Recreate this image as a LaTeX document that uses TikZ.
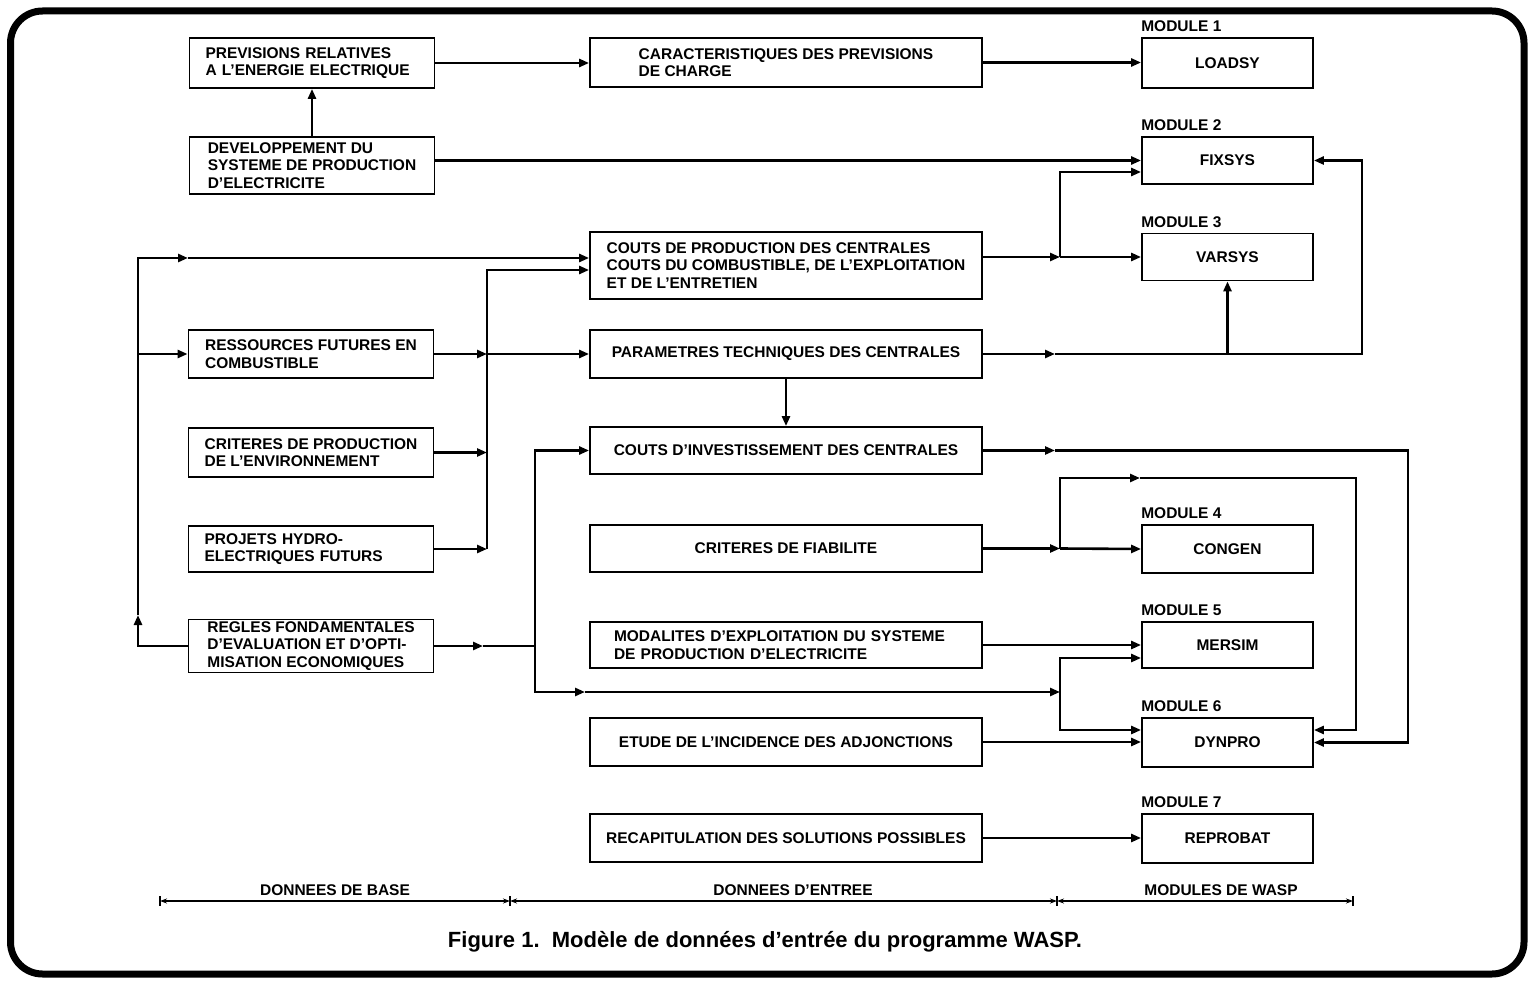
\documentclass[tikz,border=0pt]{standalone}
\usepackage{fontspec}
\setmainfont{Liberation Sans}
\usetikzlibrary{arrows.meta,calc}
\newcommand\boxfont{\fontsize{15.5}{17.5}\selectfont\bfseries}
\newcommand\captfont{\fontsize{22}{25}\selectfont\bfseries}

\begin{document}
\begin{tikzpicture}[x=1pt,y=-1pt,>={Triangle[length=10pt,width=8pt]},
  bbox/.style={draw,line width=1.8pt,font=\boxfont,align=left,minimum width=245pt,inner sep=0pt,minimum height=#1},
  mbox/.style={draw,line width=1.8pt,font=\boxfont,align=left,minimum width=392pt,inner sep=0pt,minimum height=#1},
  modbox/.style={draw,line width=1.8pt,font=\boxfont,minimum width=171pt,inner sep=0pt,minimum height=#1},
  modlbl/.style={font=\boxfont,anchor=south west,inner sep=0pt,yshift=5pt},
  arr/.style={->,line width=2.6pt},
  lnk/.style={line width=2.6pt},
  scalebar/.style={{Stealth[length=7pt,width=5pt]}-{Stealth[length=7pt,width=5pt]},line width=1.3pt}]
\useasboundingbox (0,0) rectangle (1537,984);
\draw[line width=7pt,rounded corners=32pt] (10.5,11) rectangle (1524,974);

% donnees de base
\node[bbox=50pt,text width=213pt] (b1) at (312,63) {PREVISIONS RELATIVES\\A L’ENERGIE ELECTRIQUE};
\node[bbox=57pt] (b2) at (312,165.5) {DEVELOPPEMENT DU\\SYSTEME DE PRODUCTION\\D’ELECTRICITE};
\node[bbox=48pt] (b3) at (311,354) {RESSOURCES FUTURES EN\\COMBUSTIBLE};
\node[bbox=49pt] (b4) at (311,452.5) {CRITERES DE PRODUCTION\\DE L’ENVIRONNEMENT};
\node[bbox=46pt,text width=213pt] (b5) at (311,549) {PROJETS HYDRO-\\ELECTRIQUES FUTURS};
\node[bbox=53pt] (b6) at (311,646) {REGLES FONDAMENTALES\\D’EVALUATION ET D’OPTI-\\MISATION ECONOMIQUES};

% donnees d'entree
\node[mbox=49pt] (m1) at (786,62.5) {CARACTERISTIQUES DES PREVISIONS\\DE CHARGE};
\node[mbox=67pt] (m2) at (786,265.5) {COUTS DE PRODUCTION DES CENTRALES\\COUTS DU COMBUSTIBLE, DE L’EXPLOITATION\\ET DE L’ENTRETIEN};
\node[mbox=48pt] (m3) at (786,354) {PARAMETRES TECHNIQUES DES CENTRALES};
\node[mbox=47pt] (m4) at (786,450.5) {COUTS D’INVESTISSEMENT DES CENTRALES};
\node[mbox=47pt] (m5) at (786,548.5) {CRITERES DE FIABILITE};
\node[mbox=46pt,text width=344pt] (m6) at (786,645) {MODALITES D’EXPLOITATION DU SYSTEME\\DE PRODUCTION D’ELECTRICITE};
\node[mbox=48pt] (m7) at (786,742) {ETUDE DE L’INCIDENCE DES ADJONCTIONS};
\node[mbox=48pt] (m8) at (786,838) {RECAPITULATION DES SOLUTIONS POSSIBLES};

% modules de WASP
\node[modbox=50pt] (l1) at (1227.5,63) {LOADSY};
\node[modbox=47pt] (l2) at (1227.5,160.5) {FIXSYS};
\node[modbox=47pt] (l3) at (1227.5,257) {VARSYS};
\node[modbox=48pt] (l4) at (1227.5,549) {CONGEN};
\node[modbox=46pt] (l5) at (1227.5,645) {MERSIM};
\node[modbox=49pt] (l6) at (1227.5,742.5) {DYNPRO};
\node[modbox=49pt] (l7) at (1227.5,838.5) {REPROBAT};
\foreach \i in {1,...,7} \node[modlbl] at (l\i.north west) {MODULE \i};

% points de passage
\coordinate (c0) at (138,615);
\coordinate (c2) at (188,258);
\coordinate (bus) at (487,270);
\coordinate (j2) at (1060,257);
\coordinate (a3) at (1055,354);
\coordinate (j3) at (1362,354);
\coordinate (a4) at (1055,450.5);
\coordinate (r1) at (1408,450.5);
\coordinate (j5) at (1060,548.5);
\coordinate (a5) at (1140,478);
\coordinate (r2) at (1356,478);
\coordinate (a6) at (483,646);
\coordinate (j6) at (535,646);
\coordinate (a7) at (585,692);
\coordinate (j7) at (1060,692);

\draw[arr] (b1.east) -- (b1.east -| m1.west);
\draw[arr] (m1.east) -- (m1.east -| l1.west);
\draw[arr] (b2.north) -- (b2.north |- b1.south);
\draw[arr] ([yshift=5pt]b2.east) -- (l2.west);

\draw[arr] (b6.west) -| (c0);
\draw[arr] (c0) |- (c2);
\draw[arr] (c2) -- ([yshift=7.5pt]m2.west);
\draw[arr] (c0 |- b3.west) -- (b3.west);

\draw[arr] (b3.east) -- (b3.east -| bus);
\draw[arr] (b3.east -| bus) -- (m3.west);
\draw[arr] (b4.east) -- (b4.east -| bus);
\draw[arr] (b5.east) -- (b5.east -| bus);
\draw[arr] (b5.east -| bus) -- (bus) -- ([yshift=-4.5pt]m2.west);

\draw[arr] ([yshift=8.5pt]m2.east) -- (j2);
\draw[arr] (j2) -- (l3.west);
\draw[arr] (j2) |- ([yshift=-11.5pt]l2.west);

\draw[arr] (m3.east) -- (a3);
\draw[arr] (a3) -- (j3) |- (l2.east);
\draw[arr] (a3 -| l3.south) -- (l3.south);
\draw[arr] (m3.south) -- (m3.south |- m4.north);

\draw[arr] (m4.east) -- (a4);
\draw[arr] (a4) -- (r1) |- (l6.east);

\draw[arr] (m5.east) -- (j5);
\draw[arr] (j5) -- (l4.west);
\draw[arr] (j5) |- (a5);
\draw[arr] (a5) -- (r2) |- ([yshift=12.5pt]l6.east);

\draw[arr] (m6.east) -- (m6.east -| l5.west);

\draw[arr] (b6.east) -- (a6);
\draw[lnk] (a6) -- (j6);
\draw[arr] (j6) |- (m4.west);
\draw[arr] (j6) |- (a7);
\draw[arr] (a7) -- (j7);
\draw[arr] (j7) |- ([yshift=-13pt]l5.west);
\draw[arr] (j7) |- ([yshift=12.5pt]l6.west);

\draw[arr] (m7.east) -- (m7.east -| l6.west);
\draw[arr] (m8.east) -- (m8.east -| l7.west);

% echelle
\coordinate (s0) at (160,901);
\coordinate (s1) at (510,901);
\coordinate (s2) at (1057,901);
\coordinate (s3) at (1353,901);
\draw[scalebar] (s0) -- (s1);
\draw[scalebar] (s1) -- (s2);
\draw[scalebar] (s2) -- (s3);
\foreach \p in {s0,s1,s2,s3} \draw[line width=1.3pt] ([yshift=5pt]\p) -- ([yshift=-5pt]\p);
\node[font=\boxfont,anchor=base] (t1) at (335,895) {DONNEES DE BASE};
\node[font=\boxfont,anchor=base] (t2) at (793,895) {DONNEES D’ENTREE};
\node[font=\boxfont,anchor=base] (t3) at (1221,895) {MODULES DE WASP};

\node[font=\captfont] (cap) at (765,942) {Figure 1.\ \ Modèle de données d’entrée du programme WASP.};
\end{tikzpicture}
\end{document}
